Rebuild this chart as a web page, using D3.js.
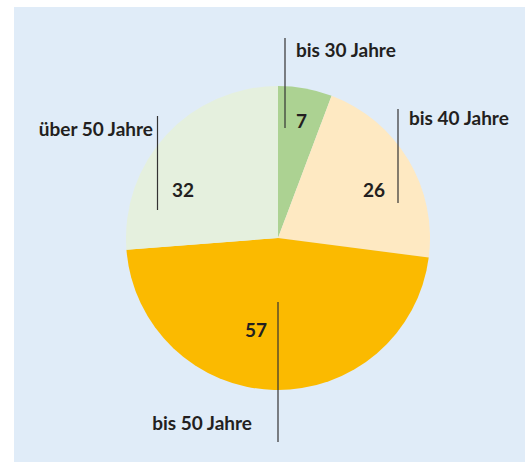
<!DOCTYPE html>
<html>
<head>
<meta charset="utf-8">
<script src="https://cdn.jsdelivr.net/npm/d3@7"></script>
<style>
  html, body { margin: 0; padding: 0; background: #fff; }
  svg { display: block; }
  text { font-family: Lato, "Open Sans", sans-serif; font-weight: 700; fill: #231f20; }
</style>
</head>
<body>
<svg id="chart" width="525" height="462"></svg>
<script>
// Data
const categories = ["bis 30 Jahre", "bis 40 Jahre", "bis 50 Jahre", "über 50 Jahre"];
const values = [7, 26, 57, 32];
const colors = ["#acd292", "#fee9c2", "#fbba00", "#e5f0de"];

// Layout for labels (leader line x, y range; label & value positions)
const layout = [
  { lx: 285, y1: 38, y2: 128, name: [296, 57, "start"], val: [296, 128, "start"] },
  { lx: 398, y1: 109, y2: 203, name: [409, 125, "start"], val: [385, 197, "end"] },
  { lx: 278, y1: 302, y2: 442, name: [252, 430, "end"], val: [267, 337, "end"] },
  { lx: 157.5, y1: 116, y2: 210, name: [153, 136, "end"], val: [172, 197, "start"] }
];

const svg = d3.select("#chart");
svg.append("rect").attr("x", 14).attr("y", 7).attr("width", 511).attr("height", 455).attr("fill", "#e0ecf8");

const cx = 278, cy = 238, r = 152;
const pie = d3.pie().sort(null).value(d => d)(values);
const arc = d3.arc().innerRadius(0).outerRadius(r);

const g = svg.append("g").attr("transform", `translate(${cx},${cy})`);
g.selectAll("path").data(pie).join("path")
  .attr("d", arc)
  .attr("fill", (d, i) => colors[i]);

const lab = svg.append("g");
layout.forEach((L, i) => {
  lab.append("line").attr("x1", L.lx).attr("x2", L.lx).attr("y1", L.y1).attr("y2", L.y2)
    .attr("stroke", "#333").attr("stroke-width", 1.2);
  lab.append("text").attr("x", L.name[0]).attr("y", L.name[1]).attr("text-anchor", L.name[2])
    .attr("font-size", 19).text(categories[i]);
  lab.append("text").attr("x", L.val[0]).attr("y", L.val[1]).attr("text-anchor", L.val[2])
    .attr("font-size", 19).text(values[i]);
});
</script>
</body>
</html>
